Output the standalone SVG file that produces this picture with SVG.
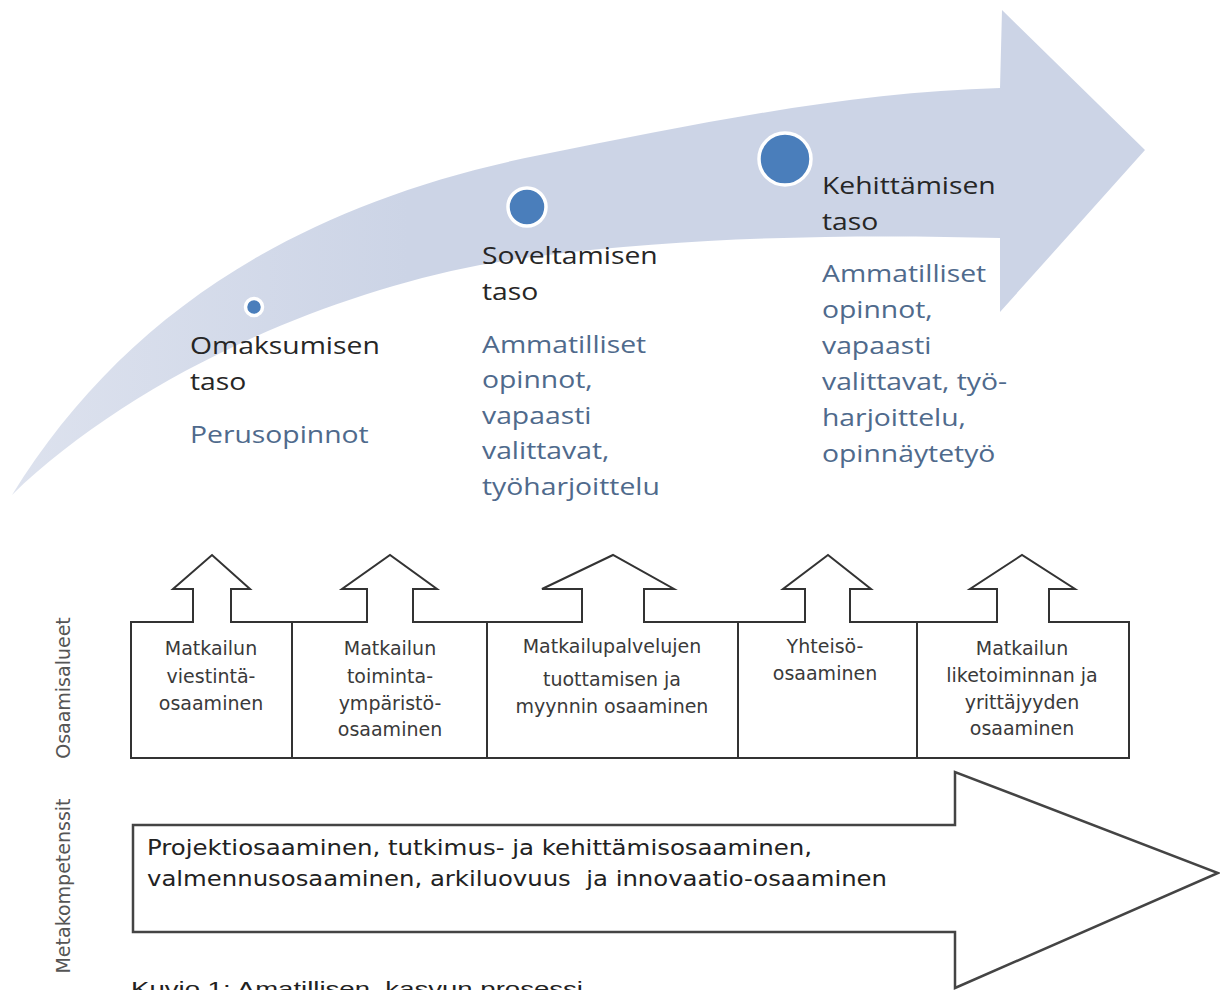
<svg xmlns="http://www.w3.org/2000/svg" width="1220" height="990" viewBox="0 0 1220 990">
<style>
.title{font-family:"Open Sans","Noto Sans",sans-serif;font-size:24px;fill:#262626}
.body{font-family:"Open Sans","Noto Sans",sans-serif;font-size:24px;fill:#4f6a8c}
.box{fill:#ffffff;stroke:#333333;stroke-width:2;stroke-linejoin:miter}
.bt{font-family:"DejaVu Sans",sans-serif;font-size:19px;fill:#3a3a3a;text-anchor:middle}
.side{font-family:"DejaVu Sans",sans-serif;font-size:19px;fill:#555555;text-anchor:middle}
.dot{fill:#4a7ebb;stroke:#ffffff;stroke-width:3.5}
</style>
<defs>
<linearGradient id="band" x1="0" y1="0" x2="1" y2="0">
<stop offset="0" stop-color="#dde2ee"/>
<stop offset="0.35" stop-color="#ccd4e6"/>
<stop offset="1" stop-color="#ccd4e6"/>
</linearGradient>
</defs>
<rect x="0" y="0" width="1220" height="990" fill="#ffffff"/>

<g id="curved-arrow">
<path d="M12,495 C120,320 290,205 540,155 C700,123 850,92 1000,88 L1002,10 L1145,150 L1000,312 L1000,238 C850,234 650,236 480,265 C300,300 120,390 12,495 Z" fill="url(#band)"/>
</g>

<g id="level-1">
<circle class="dot" cx="254" cy="307" r="8.5"/>
<g transform="translate(190 0) scale(1.18 1)">
<text class="title" x="0" y="354">Omaksumisen</text>
<text class="title" x="0" y="390">taso</text>
<text class="body" x="0" y="443">Perusopinnot</text>
</g>
</g>

<g id="level-2">
<circle class="dot" cx="527" cy="207" r="19"/>
<g transform="translate(482 0) scale(1.18 1)">
<text class="title" x="0" y="264">Soveltamisen</text>
<text class="title" x="0" y="300">taso</text>
<text class="body" x="0" y="353">Ammatilliset</text>
<text class="body" x="0" y="388">opinnot,</text>
<text class="body" x="0" y="424">vapaasti</text>
<text class="body" x="0" y="459">valittavat,</text>
<text class="body" x="0" y="495">työharjoittelu</text>
</g>
</g>

<g id="level-3">
<circle class="dot" cx="785" cy="159" r="26"/>
<g transform="translate(822 0) scale(1.18 1)">
<text class="title" x="0" y="194">Kehittämisen</text>
<text class="title" x="0" y="230">taso</text>
<text class="body" x="0" y="282">Ammatilliset</text>
<text class="body" x="0" y="318">opinnot,</text>
<text class="body" x="0" y="354">vapaasti</text>
<text class="body" x="0" y="390">valittavat, työ-</text>
<text class="body" x="0" y="426">harjoittelu,</text>
<text class="body" x="0" y="462">opinnäytetyö</text>
</g>
</g>

<g id="label-osaamisalueet">
<text class="side" transform="translate(70 688) rotate(-90)">Osaamisalueet</text>
</g>
<g id="label-metakompetenssit">
<text class="side" transform="translate(70 886) rotate(-90)">Metakompetenssit</text>
</g>

<g id="box-1">
<path class="box" d="M131,758 L131,622 L193,622 L193,589 L173,589 L212,555 L250,589 L231,589 L231,622 L292,622 L292,758 Z"/>
<text class="bt" x="211" y="655">Matkailun</text>
<text class="bt" x="211" y="683">viestintä-</text>
<text class="bt" x="211" y="710">osaaminen</text>
</g>
<g id="box-2">
<path class="box" d="M292,758 L292,622 L367,622 L367,589 L342,589 L390,555 L437,589 L413,589 L413,622 L487,622 L487,758 Z"/>
<text class="bt" x="390" y="655">Matkailun</text>
<text class="bt" x="390" y="683">toiminta-</text>
<text class="bt" x="390" y="710">ympäristö-</text>
<text class="bt" x="390" y="736">osaaminen</text>
</g>
<g id="box-3">
<path class="box" d="M487,758 L487,622 L582,622 L582,589 L542,589 L613,555 L674,589 L644,589 L644,622 L738,622 L738,758 Z"/>
<text class="bt" x="612" y="653">Matkailupalvelujen</text>
<text class="bt" x="612" y="686">tuottamisen ja</text>
<text class="bt" x="612" y="713">myynnin osaaminen</text>
</g>
<g id="box-4">
<path class="box" d="M738,758 L738,622 L805,622 L805,589 L783,589 L828,555 L871,589 L850,589 L850,622 L917,622 L917,758 Z"/>
<text class="bt" x="825" y="653">Yhteisö-</text>
<text class="bt" x="825" y="680">osaaminen</text>
</g>
<g id="box-5">
<path class="box" d="M917,758 L917,622 L997,622 L997,589 L970,589 L1022,555 L1075,589 L1049,589 L1049,622 L1129,622 L1129,758 Z"/>
<text class="bt" x="1022" y="655">Matkailun</text>
<text class="bt" x="1022" y="682">liketoiminnan ja</text>
<text class="bt" x="1022" y="709">yrittäjyyden</text>
<text class="bt" x="1022" y="735">osaaminen</text>
</g>

<g id="meta-arrow">
<path d="M133,825 L955,825 L955,772 L1218,873 L955,988 L955,932 L133,932 Z" fill="#ffffff" stroke="#444444" stroke-width="2.5" stroke-linejoin="miter"/>
<text x="147" y="855" font-family="DejaVu Sans, sans-serif" font-size="22" fill="#222222" textLength="665" lengthAdjust="spacingAndGlyphs">Projektiosaaminen, tutkimus- ja kehittämisosaaminen,</text>
<text x="147" y="886" font-family="DejaVu Sans, sans-serif" font-size="22" fill="#222222" textLength="740" lengthAdjust="spacingAndGlyphs" xml:space="preserve">valmennusosaaminen, arkiluovuus  ja innovaatio-osaaminen</text>
</g>

<g id="caption">
<text x="131" y="996" font-family="Liberation Sans, Arial, sans-serif" font-size="21" fill="#222222" textLength="452" lengthAdjust="spacingAndGlyphs" xml:space="preserve">Kuvio 1: Amatillisen  kasvun prosessi</text>
</g>
</svg>
